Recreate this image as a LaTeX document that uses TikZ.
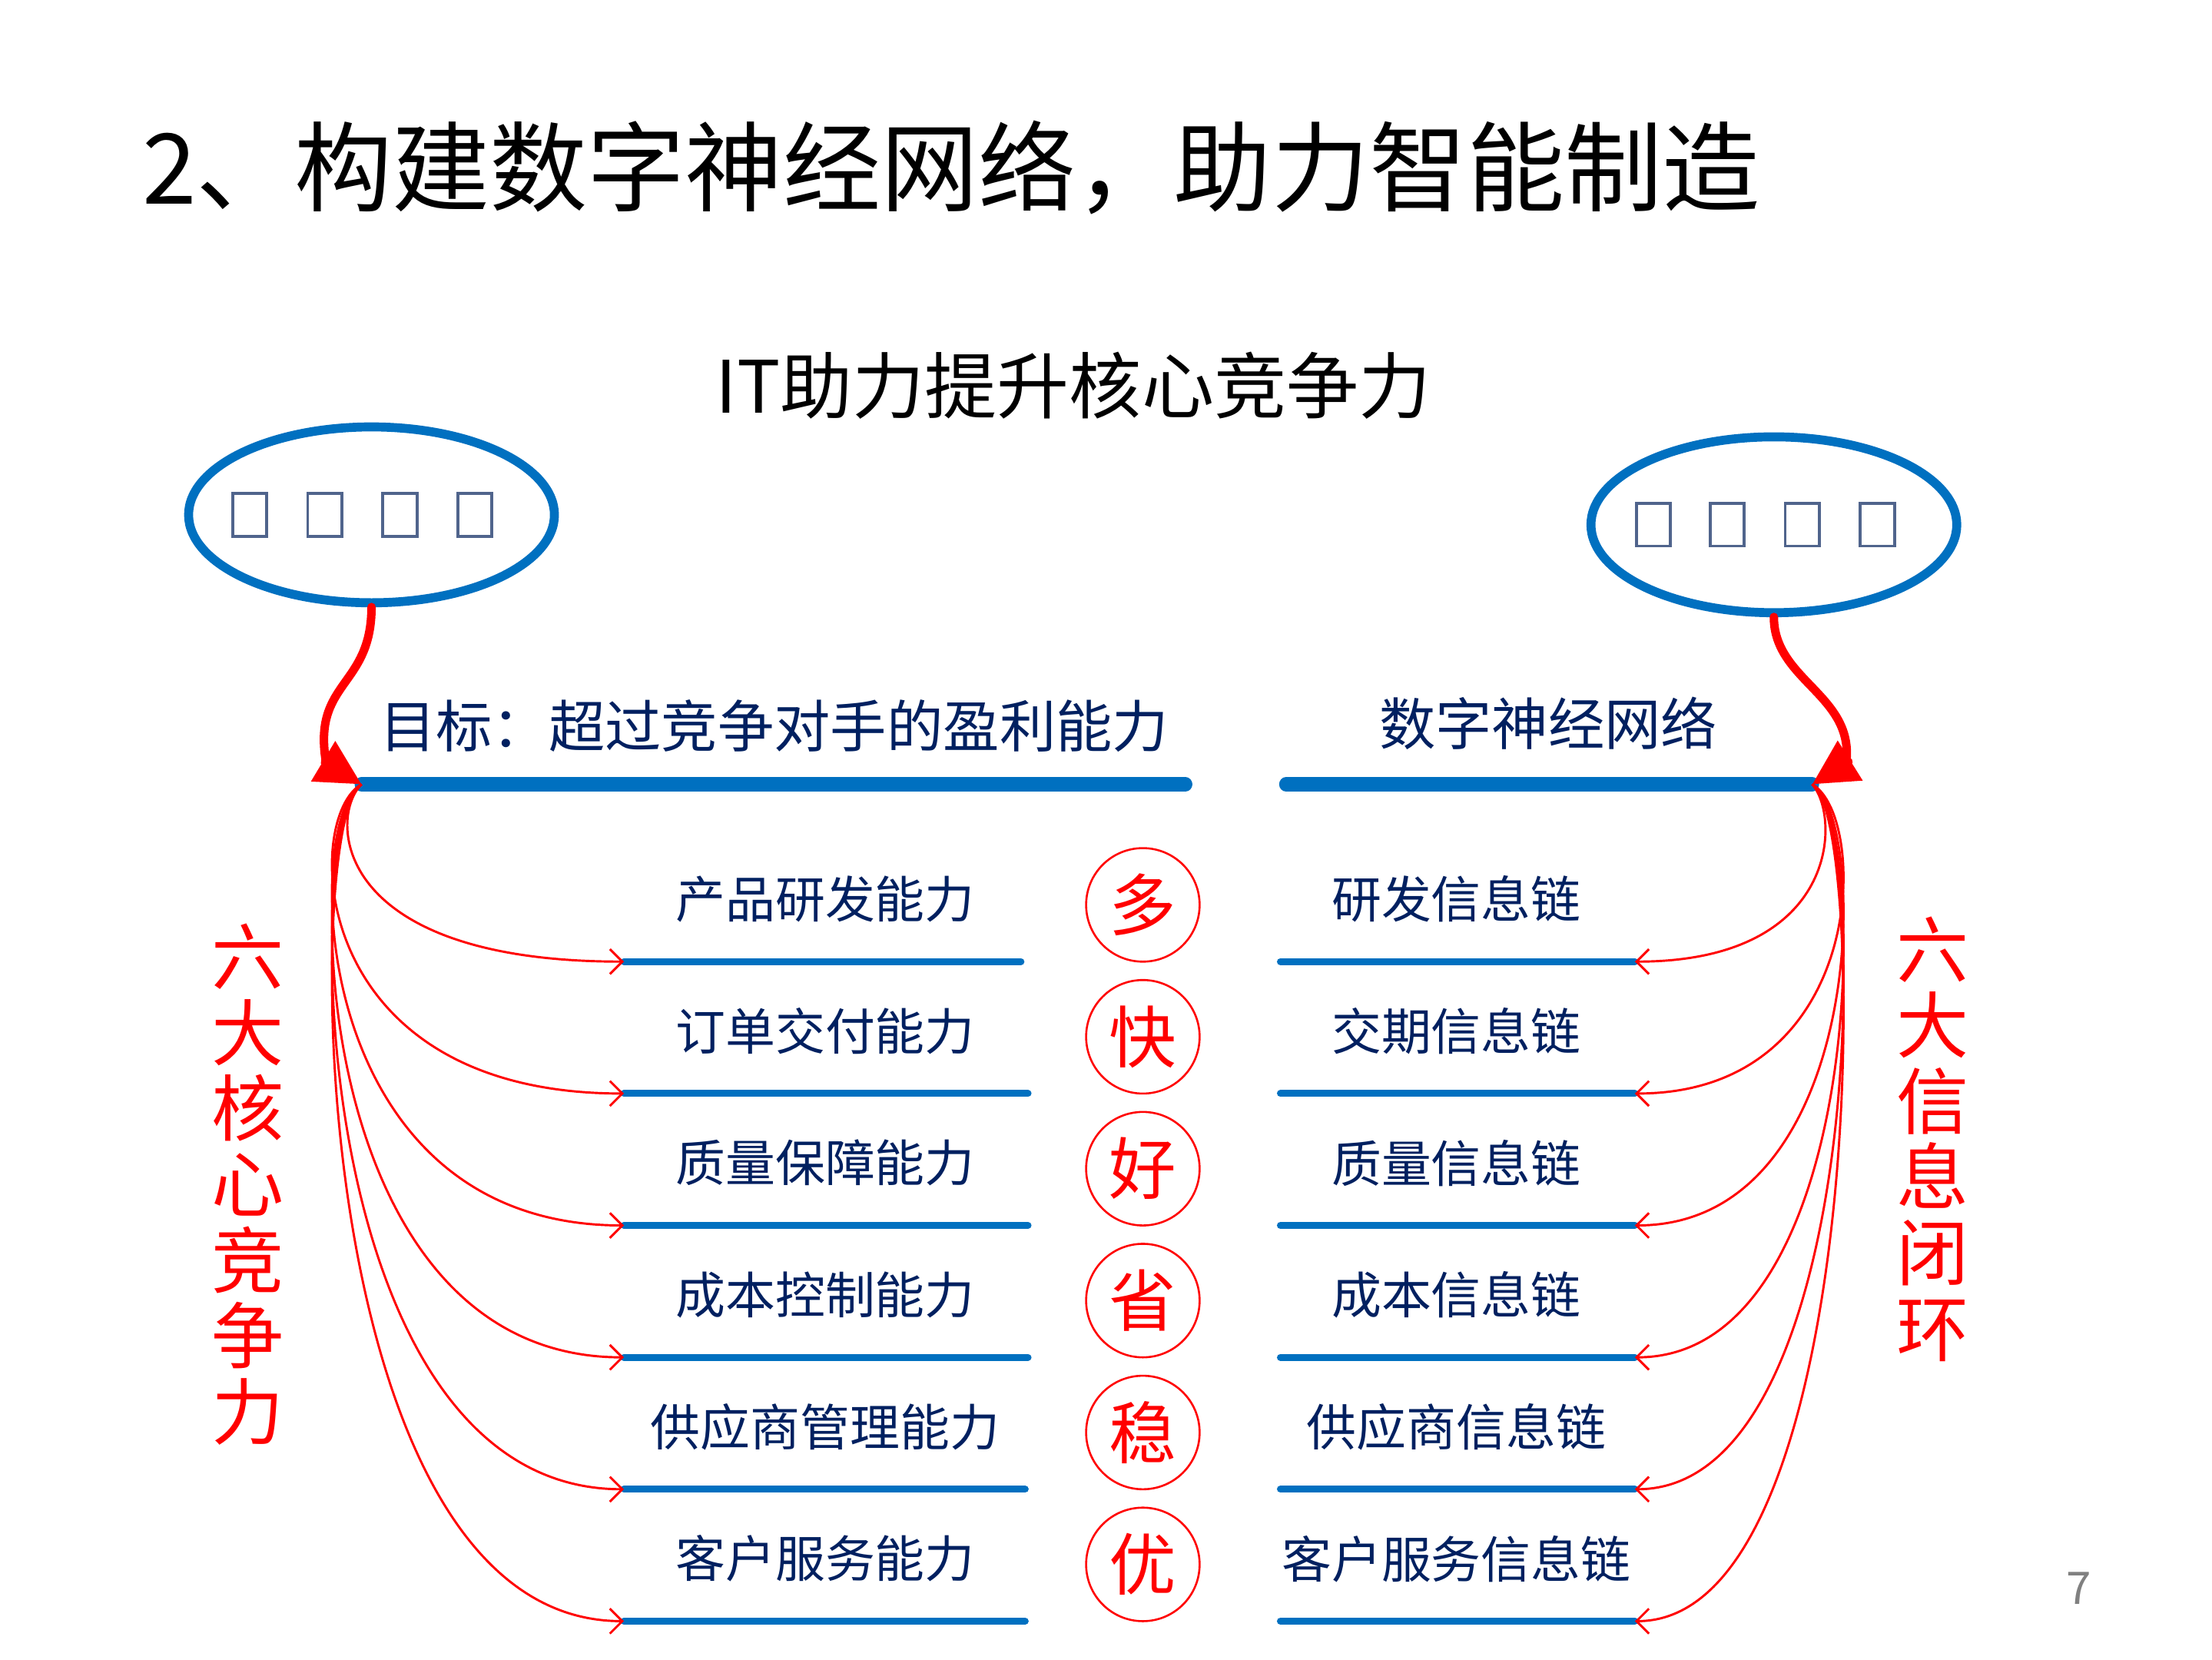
\documentclass[tikz,border=0pt]{standalone}
\usepackage{fontspec}
\setmainfont{Noto Sans CJK SC}
\usetikzlibrary{arrows.meta}
\definecolor{navy}{RGB}{0,32,96}
\definecolor{pblue}{RGB}{0,112,192}
\definecolor{tofu}{RGB}{80,100,140}
\tikzset{
  tline/.style={pblue,line width=1.4pt,line cap=round},
  hline/.style={pblue,line width=2.8pt,line cap=round},
  rowtxt/.style={navy,font=\fontsize{10}{12}\selectfont},
  headtxt/.style={navy,font=\fontsize{11.3}{14}\selectfont},
  circ/.style={circle,draw=red,line width=0.4pt,minimum size=0.8cm,inner sep=0pt,text=red,font=\fontsize{13.5}{14}\selectfont},
  tbox/.style={draw=tofu,line width=0.6pt,minimum width=0.24cm,minimum height=0.3cm,inner sep=0pt},
  thin/.style={red,line width=0.45pt,-{Straight Barb[length=2.5pt,width=5pt]}},
  thick/.style={red,line width=1.7pt,line cap=round,-{Triangle[length=9pt,width=9pt]}},
  vtxt/.style={red,font=\fontsize{14.5}{15.2}\selectfont,align=center}
}
\begin{document}
\begin{tikzpicture}[x=0.01cm,y=-0.01cm]
\useasboundingbox (0,0) rectangle (1560,1170);
\node[anchor=west,font=\fontsize{19.6}{20}\selectfont] (title) at (88,118) {2、构建数字神经网络，助力智能制造};
\node[font=\fontsize{14.5}{16}\selectfont] (sub) at (757,272) {IT助力提升核心竞争力};
% ellipses
\draw[pblue,line width=1.8pt] (262,363) ellipse [x radius=129,y radius=62];
\draw[pblue,line width=1.8pt] (1251,370) ellipse [x radius=129,y radius=62];
\coordinate (eL) at (262,428);
\coordinate (eR) at (1251,435);
\foreach \x [count=\i] in {176,229,282,335}{\node[tbox] (lb\i) at (\x,363) {};}
\foreach \x [count=\i] in {1166,1218,1271,1324}{\node[tbox] (rb\i) at (\x,370) {};}
% headers
\node[headtxt] (hL) at (546,512) {目标：超过竞争对手的盈利能力};
\node[headtxt] (hR) at (1092,510) {数字神经网络};
\coordinate (L0) at (255,553); \coordinate (L0e) at (836,553);
\coordinate (R0) at (1278,553); \coordinate (R0s) at (907,553);
\draw[hline] (L0) -- (L0e);
\draw[hline] (R0s) -- (R0);
\draw[thick] (eL) .. controls (262,485) and (220,480) .. (230,538) -- (L0);
\draw[thick] (eR) .. controls (1251,480) and (1308,490) .. (1302,538) -- (R0);
% rows
\foreach \y/\lt/\rt/\c/\le [count=\i] in {
 678/产品研发能力/研发信息链/多/720,
 771/订单交付能力/交期信息链/快/725,
 864/质量保障能力/质量信息链/好/725,
 957/成本控制能力/成本信息链/省/725,
 1050/供应商管理能力/供应商信息链/稳/723,
 1143/客户服务能力/客户服务信息链/优/723}{
  \coordinate (la\i) at (440,\y); \coordinate (lb\i) at (\le,\y);
  \coordinate (ra\i) at (903,\y); \coordinate (rb\i) at (1153,\y);
  \draw[tline] (la\i) -- (lb\i);
  \draw[tline] (ra\i) -- (rb\i);
  \node[rowtxt] (lt\i) at (582,\y-44) {\lt};
  \node[rowtxt] (rt\i) at (1027,\y-44) {\rt};
  \node[circ] (c\i) at (806,\y-40) {\c};
  \pgfmathsetmacro{\cx}{\i==1 ? 232 : 214}
  \draw[thin] (L0) .. controls (\cx,575) and (\cx,\y) .. (la\i);
  \pgfmathsetmacro{\dx}{\i==1 ? 1298 : 1318}
  \draw[thin] (R0) .. controls (\dx,575) and (\dx,\y) .. (rb\i);
}
\node[vtxt] (vL) at (175,835) {六\\大\\核\\心\\竞\\争\\力};
\node[vtxt] (vR) at (1363,803) {六\\大\\信\\息\\闭\\环};
\node[gray,font=\fontsize{9}{10}\selectfont] (pg) at (1466,1120) {7};
\end{tikzpicture}
\end{document}
